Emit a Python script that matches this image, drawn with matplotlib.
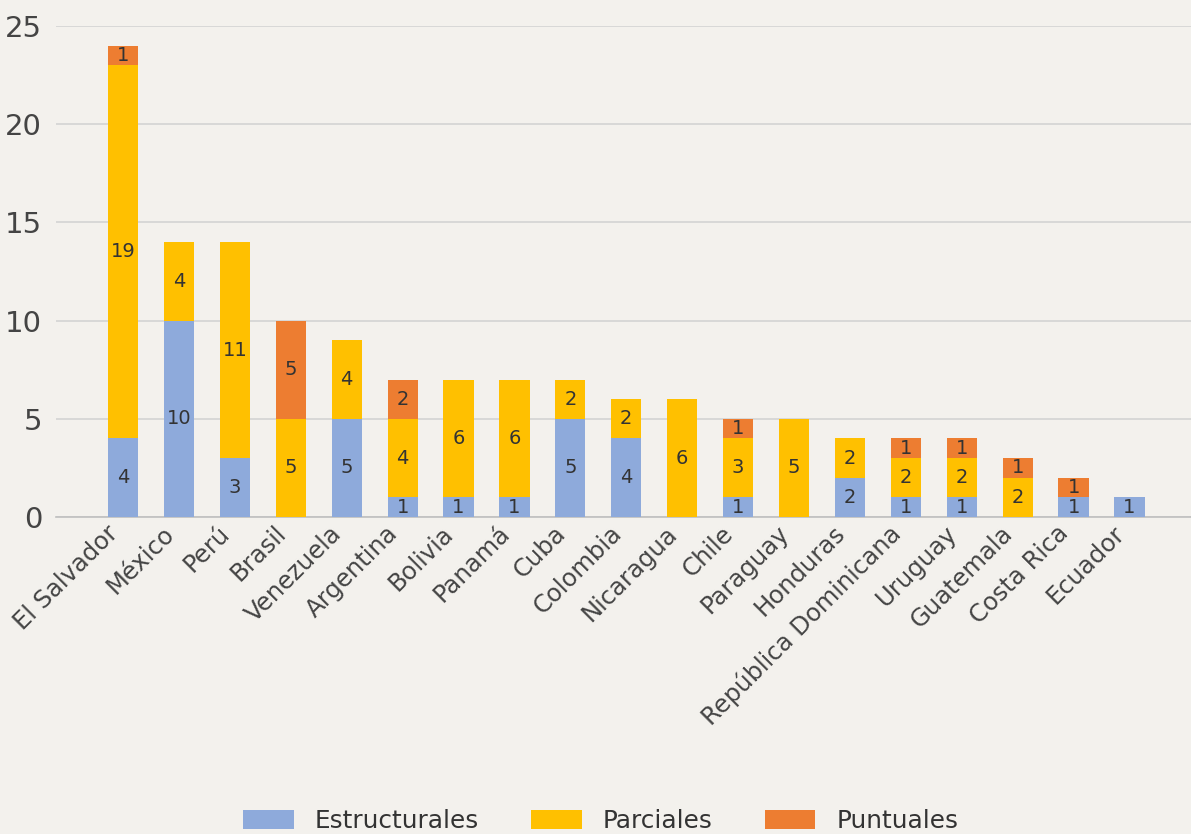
import matplotlib.pyplot as plt
import numpy as np

paises = ['El Salvador', 'México', 'Perú', 'Brasil', 'Venezuela', 'Argentina',
          'Bolivia', 'Panamá', 'Cuba', 'Colombia', 'Nicaragua', 'Chile',
          'Paraguay', 'Honduras', 'República Dominicana', 'Uruguay',
          'Guatemala', 'Costa Rica', 'Ecuador']
estructurales = [4, 10, 3, 0, 5, 1, 1, 1, 5, 4, 0, 1, 0, 2, 1, 1, 0, 1, 1]
parciales = [19, 4, 11, 5, 4, 4, 6, 6, 2, 2, 6, 3, 5, 2, 2, 2, 2, 0, 0]
puntuales = [1, 0, 0, 5, 0, 2, 0, 0, 0, 0, 0, 1, 0, 0, 1, 1, 1, 1, 0]

series = [('Estructurales', estructurales, '#8eaadb'),
          ('Parciales', parciales, '#ffc000'),
          ('Puntuales', puntuales, '#ed7d31')]

bg = '#f3f1ed'
fig = plt.figure(figsize=(11.91, 8.34), dpi=100, facecolor=bg)
ax = fig.add_axes([0.047, 0.38, 0.953, 0.589], facecolor=bg)

x = np.arange(len(paises))
bottom = np.zeros(len(paises))
for name, vals, color in series:
    vals = np.array(vals)
    ax.bar(x, vals, 0.54, bottom=bottom, color=color, label=name, zorder=3)
    for xi, b, v in zip(x, bottom, vals):
        if v > 0:
            ax.text(xi, b + v / 2, str(v), ha='center', va='center',
                    fontsize=14, color='#333333', zorder=4)
    bottom += vals

ax.set_ylim(0, 25)
ax.set_xlim(-1.2, 19.1)
ax.set_yticks([0, 5, 10, 15, 20, 25])
ax.yaxis.grid(True, color='#d3d3d3', linewidth=1.2, zorder=0)
ax.set_axisbelow(True)
for s in ['top', 'right', 'left']:
    ax.spines[s].set_visible(False)
ax.spines['bottom'].set_color('#bfbfbf')
ax.spines['bottom'].set_linewidth(1.2)
ax.tick_params(axis='y', length=0, labelsize=21, labelcolor='#444444', pad=10)
ax.tick_params(axis='x', length=0, labelsize=17.5, labelcolor='#444444', pad=3)
ax.set_xticks(x)
ax.set_xticklabels(paises, rotation=45, ha='right')

fig.legend(loc='center', bbox_to_anchor=(0.5045, 0.0155), ncol=3,
           frameon=False, fontsize=17.8, handlelength=2.05, handleheight=0.75,
           columnspacing=2.1, handletextpad=0.85, labelcolor='#333333')

fig.savefig('out.png', dpi=100, facecolor=bg)
